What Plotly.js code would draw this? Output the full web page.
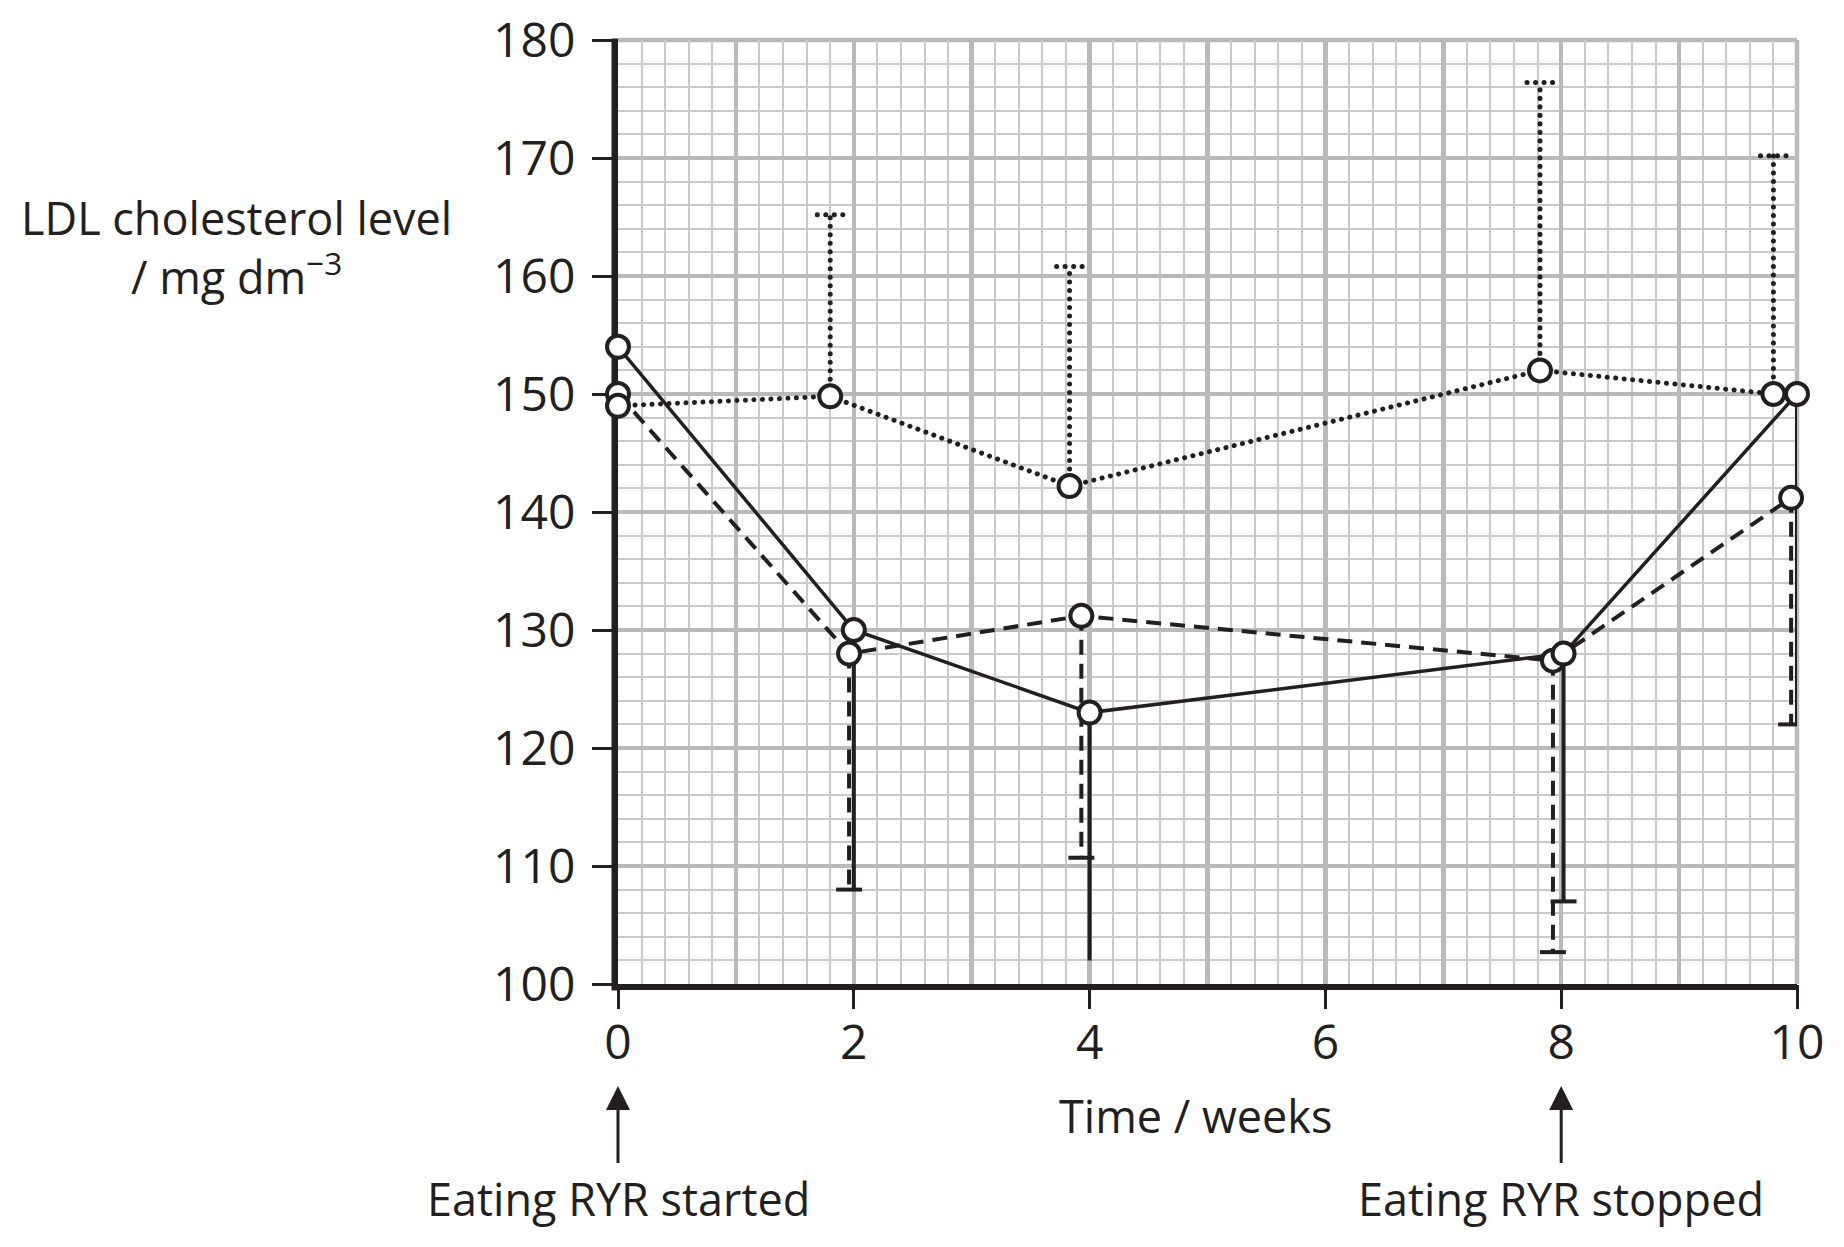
<!DOCTYPE html>
<html>
<head>
<meta charset="utf-8">
<script src="https://cdn.plot.ly/plotly-3.0.1.min.js"></script>
<style>
  html, body { margin: 0; padding: 0; background: #ffffff; }
  #chart { width: 1844px; height: 1247px; }
  /* round line caps turn the short dashes of the dotted group into dots */
  g[class*="dotted"] path.js-line { stroke-linecap: round; }
</style>
</head>
<body>
<div id="chart"></div>
<script>
// LDL cholesterol (mg dm^-3) over ten weeks for three groups of volunteers.
// Each group's points are nudged slightly along the time axis so the
// one-sided error bars stay apart.
const tickWeeks = [0, 2, 4, 6, 8, 10];
const gridWeeks = [1, 2, 3, 4, 5, 6, 7, 8, 9, 10];
const ldlTicks = [100, 110, 120, 130, 140, 150, 160, 170, 180];

// group drawn with a solid line (error bars below the mean)
const solidWeeks = [0, 2, 4, 8.02, 10];
const solidLDL = [154, 130, 123, 128, 150];
const solidLower = [null, 108, 102, 107, 122];
const solidCapped = [false, false, false, true, false];

// group drawn with a dashed line (error bars below the mean)
const dashedWeeks = [0, 1.96, 3.93, 7.93, 9.95];
const dashedLDL = [150, 128, 131.2, 127.4, 141.2];
const dashedLower = [null, 108, 110.7, 102.7, 122];

// group drawn with a dotted line (error bars above the mean)
const dottedWeeks = [0, 1.8, 3.83, 7.82, 9.8];
const dottedLDL = [149, 149.8, 142.2, 152, 150];
const dottedUpper = [null, 165.2, 160.8, 176.4, 170.2];

// events marked under the time axis
const eventWeeks = [0, 8];
const eventLabels = ['Eating RYR started', 'Eating RYR stopped'];

const INK = '#231f20';
const GRID_MAJOR = '#b9babc';
const GRID_MINOR = '#c9cacb';
const FONT = 'Open Sans, Noto Sans, DejaVu Sans, sans-serif';
const CAP_HALF = 0.11;          // half width of an error-bar cap, in weeks
const DOTS = '0.1px,8.4px';     // dot pattern (round caps make the dots)
const DASHES = '15px,9px';
const AXIS_W = 6.5;             // weight of the two black axis rules

// vertical error-bar stems from each mean to its bound
function stems(xs, ys, ends) {
  const x = [], y = [];
  xs.forEach((xv, i) => {
    if (ends[i] == null) return;
    x.push(xv, xv, null);
    y.push(ys[i], ends[i], null);
  });
  return { x, y };
}

// horizontal caps at the end of the stems
function caps(xs, ends, keep) {
  const x = [], y = [];
  xs.forEach((xv, i) => {
    if (ends[i] == null || (keep && !keep[i])) return;
    x.push(xv - CAP_HALF, xv + CAP_HALF, null);
    y.push(ends[i], ends[i], null);
  });
  return { x, y };
}

function lineTrace(uid, d, width, dash, xaxis) {
  return {
    uid: uid, type: 'scatter', mode: 'lines', x: d.x, y: d.y,
    xaxis: xaxis || 'x', yaxis: 'y',
    line: { color: INK, width: width, dash: dash },
    hoverinfo: 'skip', showlegend: false, cliponaxis: false
  };
}

const traces = [
  // error-bar stems
  lineTrace('solidbars', stems(solidWeeks, solidLDL, solidLower), 4, 'solid'),
  lineTrace('dashedbars', stems(dashedWeeks, dashedLDL, dashedLower), 4, DASHES),
  lineTrace('dottedbars', stems(dottedWeeks, dottedLDL, dottedUpper), 5, DOTS),
  // connecting lines
  lineTrace('solidline', { x: solidWeeks, y: solidLDL }, 3.5, 'solid'),
  lineTrace('dashedline', { x: dashedWeeks, y: dashedLDL }, 4, DASHES),
  lineTrace('dottedline', { x: dottedWeeks, y: dottedLDL }, 5, DOTS)
];

// open circles for the means, drawn after the lines so they sit on top
[[dashedWeeks, dashedLDL], [solidWeeks, solidLDL], [dottedWeeks, dottedLDL]].forEach(([xs, ys]) => {
  traces.push({
    type: 'scatter', mode: 'markers', x: xs, y: ys,
    marker: { symbol: 'circle', size: 22, color: '#ffffff', line: { color: INK, width: 4 } },
    hoverinfo: 'skip', showlegend: false, cliponaxis: false
  });
});

// error-bar caps live on the labelled time axis (same range as the grid axis)
traces.push(
  lineTrace('solidcaps', caps(solidWeeks, solidLower, solidCapped), 4, 'solid', 'x2'),
  lineTrace('dashedcaps', caps(dashedWeeks, dashedLower), 4, 'solid', 'x2'),
  lineTrace('dottedcaps', caps(dottedWeeks, dottedUpper), 5, DOTS, 'x2')
);

const annotations = [
  {
    xref: 'paper', yref: 'paper', x: -0.324, y: 0.781,
    xanchor: 'center', yanchor: 'middle', align: 'center', showarrow: false,
    text: 'LDL cholesterol level<br>/ mg dm<sup>\u22123</sup>',
    font: { family: FONT, size: 45, color: INK }
  },
  {
    xref: 'paper', yref: 'paper', x: 0.49, y: -0.1395,
    xanchor: 'center', yanchor: 'middle', showarrow: false,
    text: 'Time / weeks',
    font: { family: FONT, size: 45, color: INK }
  }
];
eventWeeks.forEach((wk, i) => {
  annotations.push({
    xref: 'x', yref: 'paper', x: wk, y: -0.108,
    ax: 0, ay: 113, showarrow: true,
    arrowhead: 2, arrowsize: 1.6, arrowwidth: 3, arrowcolor: INK, startstandoff: 4,
    text: eventLabels[i],
    font: { family: FONT, size: 45, color: INK }
  });
});

const layout = {
  width: 1844, height: 1247,
  margin: { l: 618, r: 47, t: 40, b: 263 },
  paper_bgcolor: '#ffffff', plot_bgcolor: '#ffffff',
  showlegend: false,
  font: { family: FONT, size: 45, color: INK },
  xaxis: {
    // grid-only axis: heavy rule every week, light rule every 0.2 week
    range: [0, 10], tickmode: 'array', tickvals: gridWeeks,
    showgrid: true, gridcolor: GRID_MAJOR, gridwidth: 4.5,
    minor: { tickmode: 'linear', tick0: 0, dtick: 0.2, showgrid: true, gridcolor: GRID_MINOR, gridwidth: 2, ticks: '' },
    ticks: '', showticklabels: false, zeroline: false,
    showline: true, linecolor: INK, linewidth: 6, layer: 'below traces', fixedrange: true
  },
  xaxis2: {
    overlaying: 'x', anchor: 'y', side: 'bottom', range: [0, 10],
    tickmode: 'array', tickvals: tickWeeks, ticktext: tickWeeks.map(String),
    ticks: 'outside', ticklen: 24, tickwidth: 3, tickcolor: INK,
    ticklabelstandoff: -8,
    showgrid: false, zeroline: false, showline: false,
    tickfont: { family: FONT, size: 48, color: INK }, fixedrange: true
  },
  yaxis: {
    range: [100, 180],
    tickmode: 'array', tickvals: ldlTicks, ticktext: ldlTicks.map(String),
    showgrid: true, gridcolor: GRID_MAJOR, gridwidth: 4.5,
    minor: { dtick: 2, showgrid: true, gridcolor: GRID_MINOR, gridwidth: 2, ticks: '' },
    ticks: 'outside', ticklen: 25, tickwidth: 3, tickcolor: INK,
    ticklabelstandoff: 7,
    zeroline: false, showline: false, layer: 'below traces',
    tickfont: { family: FONT, size: 48, color: INK }, fixedrange: true
  },
  shapes: [
    // grey rules along the top and right edges of the grid
    { type: 'line', xref: 'paper', yref: 'paper', x0: 0, x1: 1, y0: 1, y1: 1,
      line: { color: GRID_MAJOR, width: 4.5 }, layer: 'below' },
    { type: 'line', xref: 'paper', yref: 'paper', x0: 1, x1: 1, y0: 0, y1: 1,
      line: { color: GRID_MAJOR, width: 4.5 }, layer: 'below' },
    // black vertical axis rule, kept under the data so the circles at week 0 cover it
    { type: 'line', xref: 'paper', xsizemode: 'pixel', xanchor: 0,
      x0: -AXIS_W / 2, x1: -AXIS_W / 2, yref: 'paper', y0: -AXIS_W / 944, y1: 1.0015,
      line: { color: INK, width: AXIS_W }, layer: 'between' }
  ],
  annotations: annotations
};

Plotly.newPlot('chart', traces, layout, { displayModeBar: false, staticPlot: true });
</script>
</body>
</html>
